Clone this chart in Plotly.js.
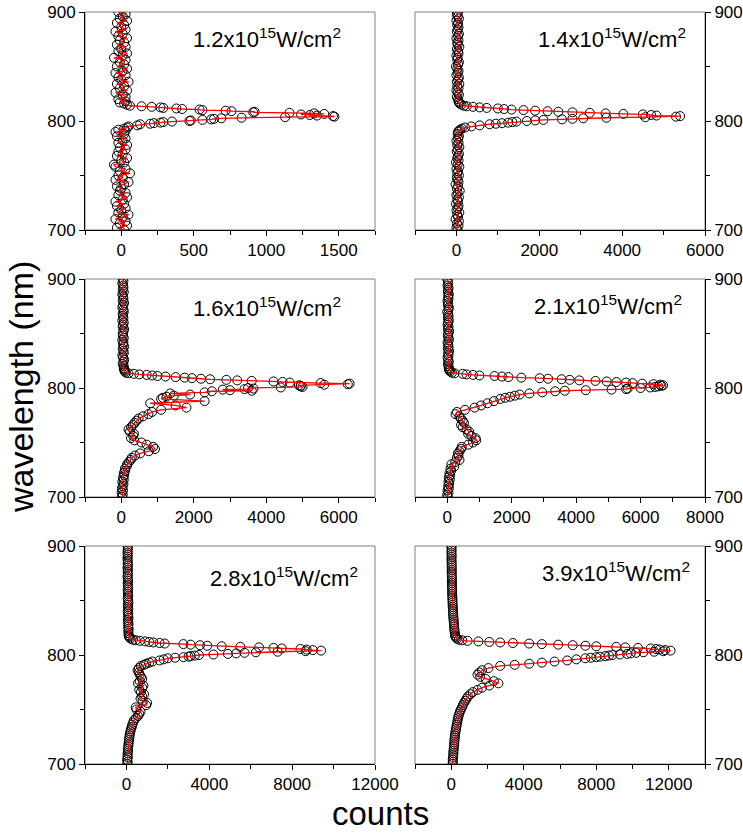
<!DOCTYPE html>
<html>
<head>
<meta charset="utf-8">
<script src="https://cdn.plot.ly/plotly-3.0.1.min.js"></script>
<style>html,body{margin:0;padding:0;background:#fff;}#chart{width:743px;height:833px;}</style>
</head>
<body>
<div id="chart"></div>
<script>
// ---- wavelength samples (nm), written out explicitly ----
const wlLow  = [700,702,704,706,708,710,712,714,716,718,720,722,724,726,728,730,732,734,736,738,740,742,744,746,748,750,752,754,756,758,760,762,764,766,768,770,772,774,776,778,780,782,784,786,788];
const wlMid  = [790,791,792,793,794,795,796];
const wlPeak = [797,797.5,798,798.5,799,799.5,800,800.5,801,801.5,802,802.5,803,803.5,804,804.5,805,805.5,806,806.5,807,807.5,808,808.5,809,809.5,810,810.5,811,811.5,812,812.5,813,813.5,814];
const wlEdge = [815,816,817,818];
const wlHigh = [820,822,824,826,828,830,832,834,836,838,840,842,844,846,848,850,852,854,856,858,860,862,864,866,868,870,872,874,876,878,880,882,884,886,888,890,892,894,896,898,900];
const wavelength = wlLow.concat(wlMid, wlPeak, wlEdge, wlHigh);

// ---- counts per panel (same order as wavelength) ----
const counts12 = [
  20,-30,40,-10,30,-40,10,50,-20,0,30,-30,20,-40,10,40,-20,30,-10,0,-30,20,50,-40,10,-20,60,-10,30,-40,-50,20,0,40,-30,10,-20,30,-10,40,-20,10,30,-30,20,
  -40,30,-20,20,40,50,110,
  130,200,225,270,290,350,470,480,560,620,640,690,830,1130,1470,1460,1350,1300,1240,1400,1330,1160,910,920,760,720,560,540,420,380,290,270,210,140,60,
  40,20,-10,30,
  -20,30,10,-40,40,-10,20,-30,50,0,-20,30,-40,10,40,-30,20,-10,30,-50,10,40,-20,0,30,-30,20,-10,40,-20,10,-40,30,0,20,-30,40,-10,10,30,-20];
const counts14 = [
  30,0,50,10,60,-20,40,20,70,0,30,50,-10,40,20,60,0,30,80,10,40,-20,50,30,10,60,20,40,0,70,30,-10,50,20,40,60,10,30,70,20,50,0,40,60,30,
  40,60,90,130,210,360,560,
  800,950,1100,1250,1350,1450,1700,1900,2100,2550,2800,3060,3620,4560,5300,5400,4830,4700,4500,4030,3600,3220,2800,2460,2200,1900,1620,1330,1150,1000,730,560,400,250,180,
  120,80,60,50,
  40,10,60,30,0,50,20,70,10,40,60,0,30,50,20,-10,40,60,20,30,0,50,40,10,70,30,20,50,0,40,60,10,30,50,20,40,0,60,30,10,40];
const counts16 = [
  20,40,10,50,20,40,60,30,70,50,80,70,110,100,150,160,210,260,290,380,520,760,930,880,700,560,360,270,330,350,240,200,270,320,370,420,480,600,750,850,1100,1800,1500,800,2300,
  1100,1150,1250,1450,1900,1350,2300,
  2500,3600,3000,2800,3400,3650,3500,4400,5000,4950,4950,4900,5600,6250,6300,5500,4650,4450,4200,3600,3200,2900,2450,2200,1950,1750,1500,1220,1000,850,700,500,350,200,130,
  100,90,80,70,
  70,40,60,80,50,30,70,60,40,80,50,60,30,70,50,40,60,80,40,50,70,30,60,50,40,70,60,30,50,80,40,60,50,30,70,40,60,50,30,60,40];
const counts21 = [
  20,0,40,10,50,30,60,40,80,50,90,70,120,100,220,130,250,380,300,350,330,380,430,450,650,800,900,880,750,650,680,600,480,430,520,480,420,380,260,300,550,850,1050,1250,1450,
  1650,1800,1950,2100,2250,2550,2950,
  3350,3650,4300,5100,5550,5600,6000,6300,6450,6550,6650,6700,6600,6400,6050,5750,5550,5250,4950,4600,4100,3800,3550,3130,2870,2300,1900,1700,1470,1000,800,600,480,230,150,
  100,70,60,50,
  40,20,50,30,10,40,30,60,20,40,30,10,50,40,20,30,60,20,40,10,30,50,20,40,30,0,40,50,20,30,10,40,30,50,20,30,40,10,30,20,0];
const counts28 = [
  40,60,30,70,50,60,80,70,90,100,110,120,140,150,170,190,220,260,280,330,360,450,560,620,680,480,450,950,1000,780,680,760,850,700,620,760,820,560,640,760,700,640,600,540,600,
  700,850,950,1100,1250,1600,1800,
  2000,2350,2750,3000,3100,3300,3500,4200,4900,5300,5700,6250,7300,8650,9400,9000,8700,8400,7500,7100,6400,5500,4600,3900,3550,3100,2750,1850,1600,1300,1100,900,650,450,320,
  200,150,120,110,
  100,90,110,80,100,90,70,100,80,90,60,90,80,70,100,80,60,90,70,80,60,90,70,60,80,70,50,80,60,70,50,80,60,70,50,60,70,50,60,70,60];
const counts39 = [
  70,90,80,100,110,120,120,140,150,160,170,180,190,200,220,240,260,280,300,330,350,370,400,440,480,530,590,640,700,780,850,920,1050,1190,1450,1700,2100,2600,2350,1900,1600,1450,1550,1700,2050,
  2700,3500,4300,5000,5700,6400,6900,
  7400,7700,8000,8200,8500,8700,8900,9300,9700,9900,10200,10600,11200,11700,12100,11800,11500,11300,11000,10300,9600,9100,8000,7400,6700,5900,5000,4300,3400,2700,2100,1500,900,600,420,
  320,260,230,210,
  200,180,170,160,150,140,130,120,110,100,100,90,80,80,70,70,60,60,50,50,50,40,40,40,30,40,30,30,20,30,20,30,20,20,10,20,20,10,20,10,20];

const panelCounts = [counts12, counts14, counts16, counts21, counts28, counts39];
const panelLabels = [
  "1.2x10<sup>15</sup>W/cm<sup>2</sup>",
  "1.4x10<sup>15</sup>W/cm<sup>2</sup>",
  "1.6x10<sup>15</sup>W/cm<sup>2</sup>",
  "2.1x10<sup>15</sup>W/cm<sup>2</sup>",
  "2.8x10<sup>15</sup>W/cm<sup>2</sup>",
  "3.9x10<sup>15</sup>W/cm<sup>2</sup>"];
const xTickVals = [
  [0,500,1000,1500],
  [0,2000,4000,6000],
  [0,2000,4000,6000],
  [0,2000,4000,6000,8000],
  [0,4000,8000,12000],
  [0,4000,8000,12000]];
const xTickText = [
  ["0","500","1000","1500"],
  ["0","2000","4000","6000"],
  ["0","2000","4000","6000"],
  ["0","2000","4000","6000","8000"],
  ["0","4000","8000","12000"],
  ["0","4000","8000","12000"]];
const yTickVals = [700,800,900];
const yTickText = ["700","800","900"];
const xTitle = "counts";
const yTitle = "wavelength (nm)";

// ---- layout config ----
const FONT = "Liberation Sans, Arial, Helvetica, sans-serif";
const W = 743, H = 833;
const colPx = [[85,375],[415,705]];
const rowPx = [[12,230],[279,497],[546,764]];
const xRanges = [[-250,1750],[-1000,6000],[-1000,7000],[-1000,8000],[-2000,12000],[-2000,14000]];
const xMinor = [250,1000,1000,1000,2000,2000];
const labelPos = [[343,38],[688,38],[343,307],[684,305],[360,577],[692,572]];

const traces = [];
const layout = {
  width: W, height: H,
  margin: {l:0, r:0, t:0, b:0},
  paper_bgcolor: '#fff', plot_bgcolor: '#fff',
  showlegend: false,
  font: {family: FONT, color: '#000', size: 17},
  shapes: [], annotations: []
};

for (let i = 0; i < 6; i++) {
  const col = i % 2, row = Math.floor(i / 2);
  const n = i + 1;
  const xa = 'x' + n, ya = 'y' + n;
  traces.push({
    type: 'scatter', mode: 'markers', x: panelCounts[i], y: wavelength,
    xaxis: xa, yaxis: ya,
    marker: {symbol: 'circle-open', size: 9, color: '#000', line: {width: 1, color: '#000'}},
    hoverinfo: 'skip'
  });
  traces.push({
    type: 'scatter', mode: 'lines', x: panelCounts[i], y: wavelength,
    xaxis: xa, yaxis: ya,
    line: {color: '#ff0000', width: 1.3},
    hoverinfo: 'skip'
  });
  const xd = [colPx[col][0] / W, colPx[col][1] / W];
  const yd = [1 - rowPx[row][1] / H, 1 - rowPx[row][0] / H];
  layout['xaxis' + (n === 1 ? '' : n)] = {
    domain: xd, anchor: ya, range: xRanges[i],
    tickmode: 'array', tickvals: xTickVals[i], ticktext: xTickText[i],
    ticks: 'outside', ticklen: 5, tickwidth: 1, tickcolor: '#000',
    minor: {dtick: xMinor[i], tick0: 0, ticks: 'outside', ticklen: 4, tickwidth: 1, tickcolor: '#000', showgrid: false},
    showline: true, linecolor: '#000', linewidth: 1, mirror: false,
    showgrid: false, zeroline: false,
    tickfont: {family: FONT, size: 17, color: '#000'}
  };
  layout['yaxis' + (n === 1 ? '' : n)] = {
    domain: yd, anchor: xa, range: [700, 900], side: col === 0 ? 'left' : 'right',
    tickmode: 'array', tickvals: yTickVals, ticktext: yTickText,
    ticks: 'outside', ticklen: 5, tickwidth: 1, tickcolor: '#000',
    minor: {dtick: 50, tick0: 700, ticks: 'outside', ticklen: 4, tickwidth: 1, tickcolor: '#000', showgrid: false},
    showline: true, linecolor: '#000', linewidth: 1, mirror: false,
    showgrid: false, zeroline: false,
    tickfont: {family: FONT, size: 17, color: '#000'}
  };
  layout.shapes.push({
    type: 'rect', xref: xa + ' domain', yref: ya + ' domain',
    x0: 0, x1: 1, y0: 0, y1: 1, layer: 'below',
    line: {color: '#808080', width: 1}, fillcolor: 'rgba(0,0,0,0)'
  });
  layout.annotations.push({
    xref: 'paper', yref: 'paper',
    x: labelPos[i][0] / W, y: 1 - labelPos[i][1] / H,
    xanchor: 'right', yanchor: 'middle', showarrow: false,
    text: panelLabels[i], font: {family: FONT, size: 22, color: '#000'}
  });
}
layout.annotations.push({
  xref: 'paper', yref: 'paper', x: 21 / W, y: 1 - 387 / H,
  xanchor: 'center', yanchor: 'middle', showarrow: false, textangle: -90,
  text: yTitle, font: {family: FONT, size: 34, color: '#000'}
});
layout.annotations.push({
  xref: 'paper', yref: 'paper', x: 380 / W, y: 0,
  xanchor: 'center', yanchor: 'bottom', showarrow: false, borderpad: 0,
  text: xTitle, font: {family: FONT, size: 33, color: '#000'}
});

Plotly.newPlot('chart', traces, layout, {staticPlot: true, displayModeBar: false});
</script>
</body>
</html>
